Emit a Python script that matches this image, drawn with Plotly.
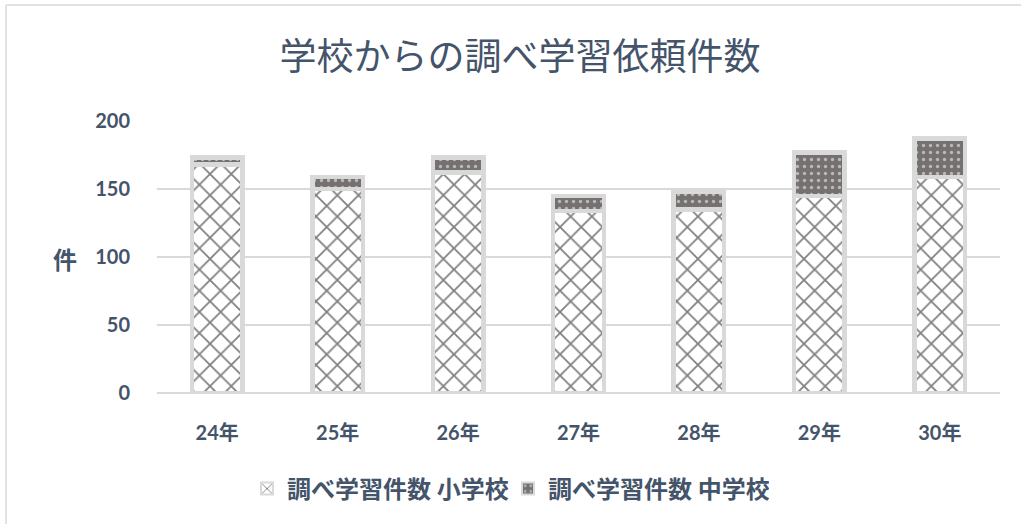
import plotly.graph_objects as go

categories = ["24年", "25年", "26年", "27年", "28年", "29年", "30年"]
elementary = [168, 150, 162, 134, 135, 145, 159]
junior_high = [5, 9, 11, 11, 13, 32, 28]
y_ticks = [0, 50, 100, 150, 200]

TXT = "#44546a"
BORDER = "#d9d9d9"
FONT = "Lato, Noto Sans CJK JP, sans-serif"

L, R, T, B = 157, 21, 121, 131
W, H = 1021, 524
pw, ph = W - L - R, H - T - B

def px(x):
    return (x - L) / pw

def py(y):
    return (H - B - y) / ph

fig = go.Figure()
fig.add_trace(go.Bar(
    x=categories, y=elementary, name="調べ学習件数 小学校",
    marker=dict(
        color="white",
        line=dict(color=BORDER, width=4.5),
        pattern=dict(shape="x", fgcolor="#000000", bgcolor="white", size=15, solidity=0.22),
    ),
))
fig.add_trace(go.Bar(
    x=categories, y=junior_high, name="調べ学習件数 中学校",
    marker=dict(
        color="#767171",
        line=dict(color=BORDER, width=4.5),
        pattern=dict(shape=".", fgcolor="white", bgcolor="#767171", size=7, solidity=0.18),
    ),
))

fig.update_layout(
    width=W, height=H,
    margin=dict(l=L, r=R, t=T, b=B),
    barmode="stack", bargap=0.58,
    paper_bgcolor="white", plot_bgcolor="white",
    font=dict(family=FONT, color=TXT, size=20),
    title=dict(
        text="学校からの調べ学習依頼件数",
        font=dict(family="Noto Sans CJK JP", size=37, color=TXT),
        x=520 / W, xref="container", xanchor="center",
        y=1 - 57 / H, yref="container", yanchor="middle",
    ),
    legend=dict(
        orientation="h", x=px(508), xanchor="center", y=py(489), yanchor="middle",
        font=dict(family=FONT, size=24, color=TXT, weight="bold"),
        itemsizing="constant", traceorder="normal",
        entrywidth=216, entrywidthmode="pixels",
    ),
    showlegend=True,
)
fig.update_xaxes(
    showgrid=False, showline=False, ticks="",
    tickfont=dict(family=FONT, size=20, color=TXT, weight="bold"),
    ticklabelstandoff=26,
)
fig.update_yaxes(
    range=[0, 200], tickvals=y_ticks,
    showgrid=True, gridcolor=BORDER, gridwidth=1.5,
    zeroline=True, zerolinecolor=BORDER, zerolinewidth=1.5,
    showline=False, ticks="",
    tickfont=dict(family=FONT, size=20, color=TXT, weight="bold"),
    ticklabelstandoff=26,
)
fig.add_annotation(
    text="件", x=px(65), y=py(258), xref="paper", yref="paper",
    xanchor="center", yanchor="middle",
    showarrow=False, font=dict(family="Noto Sans CJK JP", size=24, color=TXT, weight="bold"),
)
# chart frame (top and left edges visible)
fig.add_shape(type="line", xref="paper", yref="paper",
              x0=px(6), x1=px(W + 5), y0=py(5), y1=py(5),
              line=dict(color=BORDER, width=1.5))
fig.add_shape(type="line", xref="paper", yref="paper",
              x0=px(6), x1=px(6), y0=py(5), y1=py(H + 5),
              line=dict(color=BORDER, width=1.5))

fig.write_html("out.html")
